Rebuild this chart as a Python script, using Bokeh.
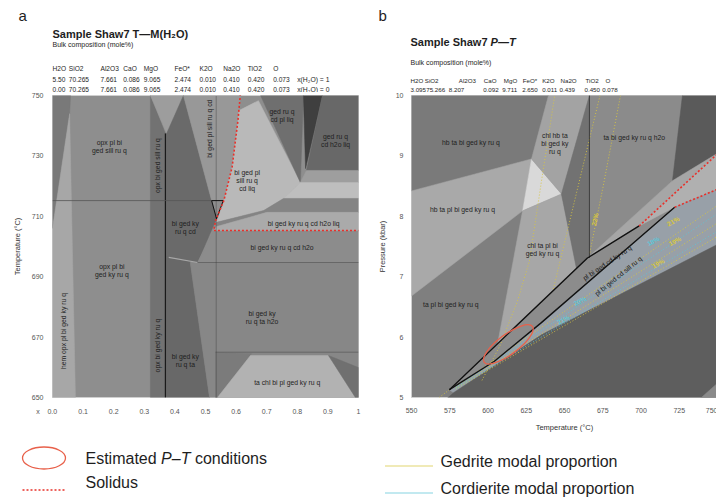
import numpy as np
from bokeh.plotting import figure
from bokeh.layouts import row, column
from bokeh.models import FixedTicker, ColumnDataSource, Range1d
from bokeh.core.properties import value
from bokeh.embed import file_html
from bokeh.resources import INLINE

FONT = "Liberation Sans"
TXT = "#1e1e1e"
RED = "#e8302a"
ELL = "#e8604a"
YEL = "#d8c640"
CYA = "#5ec4d6"
NB = "\u00a0"

# ---------------- panel a data ----------------
a_x_ticks = [0.0, 0.1, 0.2, 0.3, 0.4, 0.5, 0.6, 0.7, 0.8, 0.9, 1.0]
a_x_tick_labels = ["0.0", "0.1", "0.2", "0.3", "0.4", "0.5", "0.6", "0.7", "0.8", "0.9", "1"]
a_x_name = "x"
a_T_ticks = [650, 670, 690, 710, 730, 750]

oxides = ["H2O", "SiO2", "Al2O3", "CaO", "MgO", "FeO*", "K2O", "Na2O", "TiO2", "O"]
a_bulk_x1 = ["5.50", "70.265", "7.661", "0.086", "9.065", "2.474", "0.010", "0.410", "0.420", "0.073"]
a_bulk_x0 = ["0.00", "70.265", "7.661", "0.086", "9.065", "2.474", "0.010", "0.410", "0.420", "0.073"]
b_bulk = ["3.095", "75.266", "8.207", "0.092", "9.711", "2.650", "0.011", "0.439", "0.450", "0.078"]

# phase fields of the T-M(H2O) section: (x, T) vertices and grey tone
a_field_x = [
    [0, 0.059, 0.056, 0],
    [0, 0.075, 0.056, 0],
    [0.32, 0.369, 0.369, 0.32],
    [0.32, 0.428, 0.373],
    [0.373, 0.428, 0.52, 0.536, 0.474, 0.369, 0.369],
    [0.369, 0.45, 0.513, 0.369],
    [0.428, 0.614, 0.606, 0.587, 0.56, 0.52],
    [0.45, 1, 1, 0.513],
    [0.527, 1, 1, 0.474],
    [0.609, 0.673, 0.81, 0.755, 0.69, 0.536, 0.56, 0.587, 0.606],
    [0.68, 0.82, 0.81],
    [0.82, 0.882, 0.827],
    [0.882, 1, 1, 0.83],
    [0.83, 1, 1, 0.81],
    [0.81, 1, 1, 0.755],
    [0.536, 0.69, 0.755, 1, 1, 0.70, 0.536],
    [0.536, 0.70, 1, 1, 0.527],
    [0.533, 0.65, 0.539, 0.533],
    [0.539, 0.647, 0.902, 0.99],
    [0.902, 1, 1, 0.99],
]
a_field_T = [
    [750, 750, 744, 706],
    [650, 650, 744, 706],
    [650, 650, 737.4, 750],
    [750, 750, 737.4],
    [737.4, 750, 715.2, 709.2, 694.7, 696.5, 737.4],
    [696.5, 695, 650, 650],
    [750, 750, 741.7, 726.3, 715.2, 715.2],
    [694.7, 694.7, 650, 650],
    [705.3, 705.3, 694.7, 694.7],
    [745, 748.3, 721.2, 715.9, 711.9, 708, 715.2, 726.3, 741.7],
    [750, 750, 721.2],
    [750, 750, 725.8],
    [750, 750, 725.2, 725.2],
    [725.2, 725.2, 721.2, 721.2],
    [721.2, 721.2, 715.9, 715.9],
    [708, 711.9, 715.9, 715.9, 711.3, 711.3, 706.6],
    [706.6, 711.3, 711.3, 705.3, 705.3],
    [665, 664.5, 650, 650],
    [650, 663.9, 663.9, 650],
    [663.9, 659.9, 650, 650],
]
a_field_color = ["#797979", "#a7a7a7", "#727272", "#9d9d9d", "#6a6a6a", "#686868",
                 "#989898", "#878787", "#8c8c8c", "#b9b9b9", "#6f6f6f", "#3f3f3f",
                 "#686868", "#9e9e9e", "#bebebe", "#848484", "#aaaaaa", "#7b7b7b",
                 "#b2b2b2", "#707070"]

a_solidus_x = [0.614, 0.606, 0.587, 0.56, 0.533, 0.527, 1.0]
a_solidus_T = [750.5, 741.7, 726.3, 715.2, 708.6, 705.3, 705.3]

a_lab_text = ["opx pl bi\nged sill ru q", "opx pl bi\nged ky ru q", "hem opx pl bi ged ky ru q",
              "opx bi ged sill ru q", "opx bi ged ky ru q", "bi ged pl sill ru q cd",
              "bi ged ky\nru q cd", "bi ged ky\nru q ta", "bi ged pl\nsill ru q\ncd liq",
              "ged ru q\ncd pl liq", "ged ru q\ncd h2o liq", "bi ged ky ru q cd h2o liq",
              "bi ged ky ru q cd h2o", "bi ged ky\nru q ta h2o", "ta chl bi pl ged ky ru q"]
a_lab_x = [0.186, 0.194, 0.036, 0.342, 0.342, 0.513, 0.434, 0.434, 0.636, 0.75, 0.925,
           0.821, 0.75, 0.685, 0.767]
a_lab_T = [733, 692, 672, 726.8, 667.2, 739, 706.4, 662.3, 721.9, 743.4, 735.1, 707.7,
           699.8, 676.6, 655.1]
a_lab_rot = [0, 0, 90, 90, 90, 90, 0, 0, 0, 0, 0, 0, 0, 0, 0]

# ---------------- panel b data ----------------
b_T_ticks = [550, 575, 600, 625, 650, 675, 700, 725, 750]
b_P_ticks = [5, 6, 7, 8, 9, 10]

b_field_T = [
    [550, 639.5, 628.4, 550],
    [550, 628.4, 622.6, 550],
    [628.4, 648, 622.6],
    [639.5, 666.3, 648, 628.4],
    [622.6, 648, 657.8, 606.2],
    [666.3, 666.3, 657.8, 648],
    [666.3, 727.1, 720.6, 666.3],
    [727.1, 755, 755, 720.6],
    [665.0, 720.6, 755, 698.8],
    [574.8, 665.0, 698.8, 722.0, 634.9, 604.2],
    [698.8, 755, 755, 722.0],
    [574.8, 604.2, 634.9, 722.0, 755, 755, 635, 577.5],
    [569.6, 755, 755, 635, 577.5],
    [735, 755, 755],
]
b_field_P = [
    [10, 10, 8.95, 8.42],
    [8.42, 8.95, 8.09, 6.68],
    [8.95, 8.37, 8.09],
    [10, 10, 8.37, 8.95],
    [8.09, 8.37, 7.14, 5.88],
    [10, 7.31, 7.14, 8.37],
    [10, 10, 8.59, 7.31],
    [10, 10, 9.12, 8.59],
    [7.31, 8.59, 9.12, 7.84],
    [5.13, 7.31, 7.84, 8.15, 6.24, 5.6],
    [7.84, 9.15, 8.5, 8.15],
    [5.13, 5.6, 6.24, 8.15, 8.5, 7.6, 6.04, 5.08],
    [4.9, 4.9, 7.6, 6.04, 5.08],
    [4.9, 4.9, 5.35],
]
b_field_color = ["#7a7a7a", "#a9a9a9", "#d9d9d9", "#a3a3a3", "#a7a7a7", "#727272",
                 "#8b8b8b", "#5a5a5a", "#a6a6a6", "#8c8c8c", "#b0b0b0", "#98a0a8",
                 "#5e5e5e", "#8a8a8a"]

b_black_T = [[574.8, 665.0, 698.8], [574.8, 604.2, 634.9, 722.0], [666.3, 666.3]]
b_black_P = [[5.13, 7.31, 7.84], [5.13, 5.6, 6.24, 8.15], [10, 7.31]]
b_black_w = [1.4, 1.4, 0.6]
b_solidus_T = [[698.8, 755], [722.0, 755]]
b_solidus_P = [[7.84, 9.15], [8.15, 8.5]]

ged_T = [[686.6, 675.3, 666.5], [673.2, 643.7, 642.8],
         [643.5, 635.0, 627.1, 619.3, 608.2, 595.8],
         [579, 755], [579, 755], [579, 755], [574.8, 567.6]]
ged_P = [[10, 8.5, 7.39], [10, 6.9, 6.79],
         [9.98, 8.59, 7.26, 6.6, 5.88, 5.27],
         [5.18, 8.27], [5.16, 7.97], [5.14, 7.74], [5.13, 4.99]]
crd_T = [[579, 755], [579, 755]]
crd_P = [[5.17, 8.13], [5.15, 7.83]]

iso_text = ["22%", "21%", "18%", "19%", "19%", "20%", "21%"]
iso_T = [669.8, 721.0, 708.0, 722.1, 711.2, 660.0, 649.2]
iso_P = [7.95, 7.92, 7.59, 7.59, 7.22, 6.60, 6.29]
iso_rot = [78, 28, 28, 28, 28, 28, 28]
iso_col = [YEL, YEL, CYA, YEL, YEL, CYA, CYA]

est_T = [613.3]
est_P = [5.88]

b_lab_text = ["hb ta bi ged ky ru q", "chl hb ta\nbi ged ky\nru q", "ta bi ged ky ru q h2o",
              "hb ta pl bi ged ky ru q", "chl ta pl bi\nged ky ru q", "ta pl bi ged ky ru q",
              "pl bi ged cd ky ru q", "pl bi ged cd sill ru q"]
b_lab_T = [588.8, 643.7, 695.6, 583.3, 635.6, 575.7, 677.9, 685.1]
b_lab_P = [9.22, 9.21, 9.31, 8.12, 7.45, 6.54, 7.23, 7.01]
b_lab_rot = [0, 0, 0, 0, 0, 0, 34, 39]

legend_text = ["Estimated P\u2013T conditions", "Solidus",
               "Gedrite modal proportion", "Cordierite modal proportion"]

# ---------------- helpers ----------------
W, H_HEAD, H_LEG = 716, 92, 60


def style_axes(p):
    for ax in p.axis:
        ax.axis_line_color = None
        ax.major_tick_line_color = None
        ax.minor_tick_line_color = None
        ax.major_tick_out = 0
        ax.major_tick_in = 0
        ax.major_label_text_font = FONT
        ax.major_label_text_font_size = "7px"
        ax.major_label_text_color = "#555555"
        ax.axis_label_text_font = FONT
        ax.axis_label_text_font_size = "7.5px"
        ax.axis_label_text_font_style = "normal"
        ax.axis_label_text_color = "#333333"
    p.grid.visible = False
    p.outline_line_color = "#cfcfcf"


def region_labels(p, xs, ys, texts, rots, size="6.8px", colors=None, style="normal"):
    src = ColumnDataSource(dict(x=xs, y=ys, text=texts, angle=[np.deg2rad(r) for r in rots],
                                color=colors if colors else [TXT] * len(xs)))
    p.text("x", "y", text="text", angle="angle", source=src, text_font=value(FONT),
           text_font_size=size, text_color="color", text_align="center",
           text_baseline="middle", text_font_style=style, text_line_height=1.15)


def blank(width, height, top, bottom):
    p = figure(width=width, height=height, x_range=Range1d(0, width), y_range=Range1d(bottom, top),
               min_border=0, x_axis_location=None, y_axis_location=None,
               output_backend="svg", toolbar_location=None, title=None)
    p.grid.visible = False
    p.outline_line_color = None
    p.background_fill_color = "white"
    return p


def put(p, x, y, text, size, style="normal", align="left", color=TXT):
    p.text(x=[x], y=[y], text=[text], text_font=value(FONT), text_font_size=f"{size}px",
           text_font_style=style, text_align=align, text_baseline="middle", text_color=color)


# ======================= header strip =======================
head = blank(W, H_HEAD, 0, H_HEAD)
put(head, 18, 15, "a", 15)
put(head, 52, 33, "Sample Shaw7 T\u2014M(H\u2082O)", 11, "bold")
put(head, 52, 44.3, "Bulk composition (mole%)", 7)
a_col_x = [52, 68.3, 100, 122.7, 143.3, 174, 199, 222.7, 247.3, 272.7]
for xx, t_ in zip(a_col_x, oxides):
    put(head, xx, 67.5, t_, 6.6)
for xx, t1, t0 in zip(a_col_x, a_bulk_x1, a_bulk_x0):
    put(head, xx, 79, t1, 6.6)
    put(head, xx, 89, t0, 6.6)
put(head, 296.7, 79, "x(H\u2082O)" + NB + "=" + NB + "1", 6.8)
put(head, 296.7, 89, "x(H\u2082O)" + NB + "=" + NB + "0", 6.8)

put(head, 378, 15, "b", 15)
put(head, 410, 41.7, "Sample Shaw7 ", 11, "bold")
put(head, 490.1, 41.7, "P\u2014T", 11, "bold italic")
put(head, 410, 61.7, "Bulk composition (mole%)", 7)
b_ox_x = [410, 424.3, 458.3, 483.3, 503.3, 522.3, 541.7, 560, 585, 605]
b_val_x = [410, 425.7, 448.3, 482.7, 501.7, 521.7, 541.7, 559, 584, 601.7]
for xx, t_ in zip(b_ox_x, oxides):
    put(head, xx, 80, t_, 6.2)
for xx, t_ in zip(b_val_x, b_bulk):
    put(head, xx, 89, t_, 6.2)

# ======================= panel a =======================
pa = figure(frame_width=306, frame_height=302, x_range=(0, 1), y_range=(650, 750),
            min_border_left=52, min_border_right=16, min_border_top=3, min_border_bottom=40,
            output_backend="svg", toolbar_location=None, title=None)
pa.background_fill_color = "#8e8e8e"
pa.patches("xs", "ys", source=ColumnDataSource(dict(xs=a_field_x, ys=a_field_T, c=a_field_color)),
           fill_color="c", line_color="c", line_width=0.5)
pa.line([0.38, 0.474], [696.4, 694.7], line_color="#a8a8a8", line_width=1.2)
pa.line([0.369, 0.369], [650, 737.4], line_color="#1a1a1a", line_width=1.2)
pa.line([0, 0.52], [715.2, 715.2], line_color="#555555", line_width=0.8)
pa.line([0.474, 1], [694.7, 694.7], line_color="#5e5e5e", line_width=0.8)
pa.line([0.533, 1], [665, 665], line_color="#5e5e5e", line_width=0.8)
pa.line([0.535, 0.535], [650, 750], line_color="#3a3a3a", line_width=0.8, line_dash="1 1")
pa.line([0.52, 0.558, 0.536, 0.52], [715.2, 715.2, 709.2, 715.2], line_color="#111111", line_width=1)
pa.line(a_solidus_x, a_solidus_T, line_color=RED, line_width=1.6, line_dash="2 2")
region_labels(pa, a_lab_x, a_lab_T, a_lab_text, a_lab_rot)

# the axis name "x" sits left of the first tick label (padded with no-break spaces)
x_labels = list(a_x_tick_labels)
x_labels[0] = a_x_name + NB * 4 + a_x_tick_labels[0] + NB * 6
pa.xaxis.ticker = FixedTicker(ticks=a_x_ticks)
pa.xaxis.major_label_overrides = dict(zip(a_x_ticks, x_labels))
pa.yaxis.ticker = FixedTicker(ticks=a_T_ticks)
pa.yaxis.axis_label = "Temperature (°C)"
style_axes(pa)
pa.xaxis.major_label_standoff = 10
pa.yaxis.major_label_standoff = 9
pa.yaxis.axis_label_standoff = 7

# ======================= panel b =======================
pb = figure(frame_width=306, frame_height=302, x_range=(550, 750), y_range=(5, 10),
            min_border_left=36, min_border_right=0, min_border_top=3, min_border_bottom=40,
            output_backend="svg", toolbar_location=None, title=None)
pb.background_fill_color = "#7f7f7f"
pb.patches("xs", "ys", source=ColumnDataSource(dict(xs=b_field_T, ys=b_field_P, c=b_field_color)),
           fill_color="c", line_color="c", line_width=0.5)
for xs, ys in zip(ged_T, ged_P):
    pb.line(xs, ys, line_color=YEL, line_width=0.9, line_dash="1 2")
for xs, ys in zip(crd_T, crd_P):
    pb.line(xs, ys, line_color=CYA, line_width=0.9, line_dash="1 2")
for xs, ys, w in zip(b_black_T, b_black_P, b_black_w):
    pb.line(xs, ys, line_color="#111111", line_width=w)
for xs, ys in zip(b_solidus_T, b_solidus_P):
    pb.line(xs, ys, line_color=RED, line_width=1.6, line_dash="2 2")
pb.ellipse(x=est_T, y=est_P, width=60, height=20, angle=0.64, width_units="screen",
           height_units="screen", fill_color=None, line_color=ELL, line_width=1.3)
region_labels(pb, b_lab_T, b_lab_P, b_lab_text, b_lab_rot)
region_labels(pb, iso_T, iso_P, iso_text, iso_rot, size="6.5px", colors=iso_col, style="bold")

pb.xaxis.ticker = FixedTicker(ticks=b_T_ticks)
pb.yaxis.ticker = FixedTicker(ticks=b_P_ticks)
pb.xaxis.axis_label = "Temperature (°C)"
pb.yaxis.axis_label = "Pressure (kbar)"
style_axes(pb)
pb.xaxis.major_label_standoff = 10
pb.xaxis.axis_label_standoff = 7
pb.yaxis.major_label_standoff = 8
pb.yaxis.axis_label_standoff = 6

# ======================= legend strip =======================
top = 92 + 345
LS = 16
leg = blank(W, H_LEG, top, top + H_LEG)
leg.ellipse(x=[43.5], y=[457.5], width=43, height=22, width_units="screen", height_units="screen",
            fill_color=None, line_color=ELL, line_width=1.3)
put(leg, 85, 457.5, "Estimated", LS)
put(leg, 160.6, 457.5, "P\u2013T", LS, "italic")
put(leg, 194.4, 457.5, "conditions", LS)
leg.line([22, 65], [489.5, 489.5], line_color=RED, line_width=1.6, line_dash="2 2")
put(leg, 85, 481.5, legend_text[1], LS)
leg.line([385, 432], [465.5, 465.5], line_color=YEL, line_width=1.4, line_dash="1 1")
put(leg, 440, 461, legend_text[2], LS)
leg.line([385, 432], [492.5, 492.5], line_color=CYA, line_width=1.4, line_dash="1 1")
put(leg, 440, 487.5, legend_text[3], LS)

layout = column(head, row(pa, pb, spacing=0), leg, spacing=0)
open("out.html", "w").write(file_html(layout, INLINE))
